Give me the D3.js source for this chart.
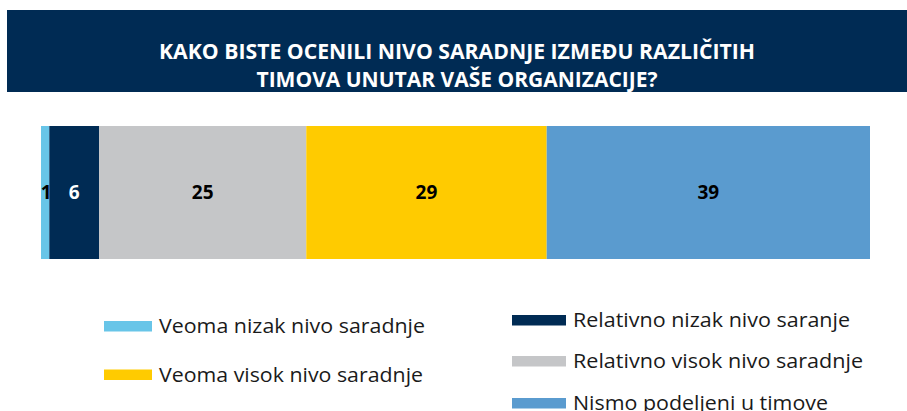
<!DOCTYPE html>
<html>
<head>
<meta charset="utf-8">
<script src="https://cdn.jsdelivr.net/npm/d3@7"></script>
<style>
  html, body { margin: 0; padding: 0; background: #ffffff; }
  svg { display: block; }
</style>
</head>
<body>
<svg id="chart" width="907" height="411"></svg>
<script>
// Survey answers, in stacking order from left to right
const categories = [
  "Veoma nizak nivo saradnje",
  "Relativno nizak nivo saranje",
  "Relativno visok nivo saradnje",
  "Veoma visok nivo saradnje",
  "Nismo podeljeni u timove"
];
const values = [1, 6, 25, 29, 39];
const colors = ["#68C5E8", "#002B54", "#C5C6C8", "#FFCB00", "#5A9BCF"];
const labelColors = ["#000000", "#ffffff", "#000000", "#000000", "#000000"];
const titleLines = [
  "KAKO BISTE OCENILI NIVO SARADNJE IZMEĐU RAZLIČITIH",
  "TIMOVA UNUTAR VAŠE ORGANIZACIJE?"
];
// Legend layout: two columns, items listed per column
const legendLeft = [0, 3];
const legendRight = [1, 2, 4];
const legendTextWidths = [266, 277, 290, 264, 255];

const svg = d3.select("#chart");
const W = 907;
const FONT = "'Open Sans', 'Noto Sans', sans-serif";

// Title banner
svg.append("rect")
  .attr("x", 7).attr("y", 10)
  .attr("width", W - 7).attr("height", 82)
  .attr("fill", "#002B54");

const titleBaselines = [58.5, 86.5];
const titleWidths = [596, 401];
svg.selectAll("text.title")
  .data(titleLines)
  .join("text")
  .attr("class", "title")
  .attr("x", 457)
  .attr("y", (d, i) => titleBaselines[i])
  .attr("text-anchor", "middle")
  .attr("textLength", (d, i) => titleWidths[i])
  .attr("lengthAdjust", "spacingAndGlyphs")
  .attr("fill", "#ffffff")
  .style("font-family", FONT)
  .style("font-weight", 700)
  .style("font-size", "22px")
  .text(d => d);

// Stacked 100% bar
const x = d3.scaleLinear().domain([0, 100]).range([41, 870]);
const y = d3.scaleBand().domain(["all"]).range([126, 259]).padding(0);

const starts = [];
values.reduce((acc, v, i) => { starts[i] = acc; return acc + v; }, 0);
const segs = values.map((v, i) => ({ v, s: starts[i], i }));

svg.selectAll("rect.seg")
  .data(segs)
  .join("rect")
  .attr("class", "seg")
  .attr("x", d => x(d.s))
  .attr("y", y("all"))
  .attr("width", d => x(d.s + d.v) - x(d.s))
  .attr("height", y.bandwidth())
  .attr("fill", d => colors[d.i]);

svg.selectAll("text.val")
  .data(segs)
  .join("text")
  .attr("class", "val")
  .attr("x", d => (x(d.s) + x(d.s + d.v)) / 2 + (d.i === 0 ? 1 : 0))
  .attr("y", y("all") + y.bandwidth() / 2 + 6.5)
  .attr("text-anchor", "middle")
  .attr("fill", d => labelColors[d.i])
  .style("font-family", FONT)
  .style("font-weight", 700)
  .style("font-size", "19px")
  .text(d => d.v);

// Legend
function drawLegend(items, sx, tx, baselines) {
  const g = svg.append("g");
  items.forEach((ci, k) => {
    g.append("rect")
      .attr("x", sx).attr("y", baselines[k] - 12)
      .attr("width", tx - sx - 7).attr("height", 10.5)
      .attr("fill", colors[ci]);
    g.append("text")
      .attr("x", tx).attr("y", baselines[k])
      .attr("fill", "#1a1a1a")
      .attr("textLength", legendTextWidths[ci])
      .attr("lengthAdjust", "spacingAndGlyphs")
      .style("font-family", FONT)
      .style("font-size", "20.5px")
      .text(categories[ci]);
  });
}
drawLegend(legendLeft, 104, 159, [333, 381.5]);
drawLegend(legendRight, 512, 573, [327, 368, 410]);
</script>
</body>
</html>
